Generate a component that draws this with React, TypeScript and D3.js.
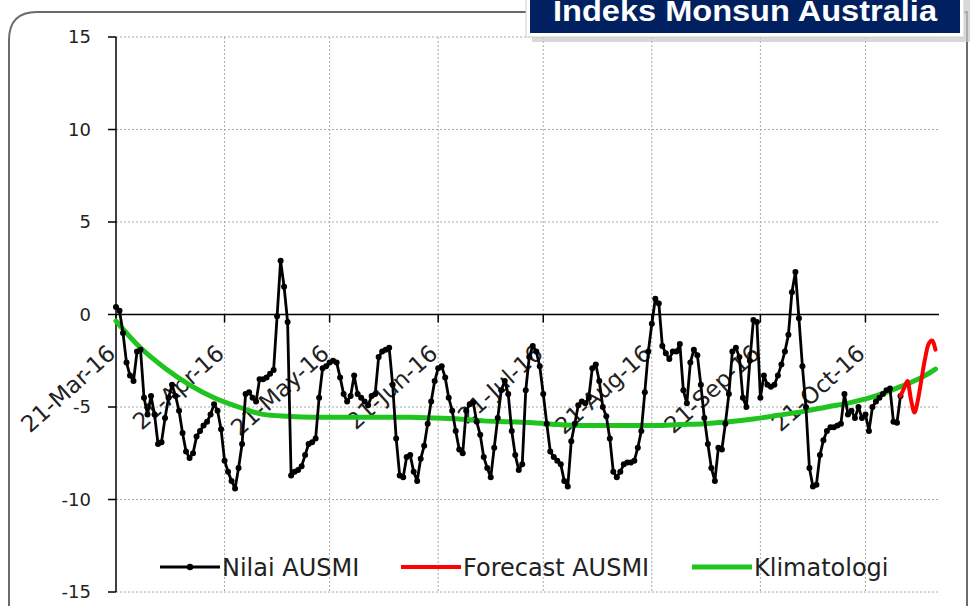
import React from 'react';
import * as d3 from 'd3';

const startDate = new Date(2016, 2, 21);
const endDate = new Date(2016, 10, 11);

// Nilai AUSMI, one value per day starting 21-Mar-16
const ausmi = [
  0.4, 0.2, -1.0, -2.6, -3.3, -3.6, -2.0, -1.9, -4.5, -5.4,
  -4.4, -5.4, -7.0, -6.9, -5.6, -4.5, -3.8, -4.4, -5.2, -6.4,
  -7.4, -7.75, -7.5, -6.6, -6.3, -6.0, -5.8, -5.4, -4.85, -5.2,
  -6.2, -7.9, -8.5, -9.0, -9.4, -8.3, -7.0, -4.3, -4.2, -4.5,
  -4.7, -3.5, -3.5, -3.4, -3.2, -3.0, -0.1, 2.9, 1.5, -0.4,
  -8.7, -8.5, -8.4, -8.2, -7.6, -7.0, -6.9, -6.7, -4.5, -2.9,
  -2.8, -2.6, -2.5, -2.6, -3.4, -4.3, -4.7, -4.4, -3.3, -4.3,
  -4.5, -4.7, -4.9, -4.4, -4.3, -2.3, -2.0, -1.9, -1.8, -3.8,
  -6.7, -8.7, -8.8, -7.7, -7.6, -8.5, -9.0, -7.8, -7.1, -5.9,
  -4.7, -3.6, -2.9, -2.8, -3.4, -4.5, -5.2, -6.3, -7.3, -7.5,
  -5.2, -4.85, -4.75, -5.8, -6.5, -7.7, -8.3, -8.8, -7.2, -5.6,
  -4.1, -3.6, -4.3, -6.3, -7.6, -8.4, -8.1, -4.1, -2.3, -1.7,
  -2.0, -2.8, -4.3, -5.9, -7.4, -7.7, -7.9, -8.1, -9.0, -9.3,
  -6.85, -5.9, -4.9, -4.7, -4.8, -4.5, -2.9, -2.7, -3.6, -5.0,
  -5.5, -6.7, -8.5, -8.8, -8.5, -8.1, -8.0, -8.0, -7.9, -7.2,
  -6.3, -4.2, -2.0, -0.5, 0.85, 0.6, -1.7, -2.1, -2.4, -2.0,
  -2.0, -1.6, -4.1, -4.8, -2.6, -1.9, -2.2, -3.8, -5.6, -7.0,
  -8.3, -9.0, -7.2, -7.3, -5.9, -4.3, -2.0, -1.8, -2.3, -4.5,
  -5.0, -2.5, -0.3, -0.4, -4.5, -3.3, -3.8, -3.9, -3.8, -3.3,
  -2.7, -2.0, -1.1, 1.2, 2.3, -0.2, -2.8, -5.0, -8.3, -9.3,
  -9.2, -7.6, -6.8, -6.3, -6.1, -6.1, -6.0, -5.9, -4.3, -5.4,
  -5.2, -5.6, -5.0, -5.6, -5.4, -6.3, -5.0, -4.7, -4.5, -4.3,
  -4.1, -4.0, -5.8, -5.85, -4.4,
];

// Forecast AUSMI, daily, picks up from the last observed day
const forecastStart = 224;
const forecast = [-4.4, -4.0, -3.6, -4.6, -5.3, -4.6, -3.5, -2.4, -1.6, -1.4, -1.9];

// Klimatologi, read off roughly every week
const klimDays = [0, 7, 14, 21, 28, 35, 42, 49, 56, 63, 70, 77, 84, 91, 98, 105, 112,
  119, 126, 133, 140, 147, 154, 161, 168, 175, 182, 189, 196, 203, 210, 217, 224, 231, 234];
const klimatologi = [-0.35, -1.8, -2.9, -3.8, -4.5, -5.0, -5.4, -5.5, -5.55, -5.55, -5.55,
  -5.55, -5.55, -5.6, -5.65, -5.75, -5.8, -5.85, -5.95, -6.0, -6.0, -6.0, -6.0, -5.95,
  -5.9, -5.8, -5.65, -5.45, -5.25, -5.0, -4.75, -4.4, -3.9, -3.3, -2.95];

const yTicks = [15, 10, 5, 0, -5, -10, -15];
const monthTicks = [2, 3, 4, 5, 6, 7, 8, 9].map(m => new Date(2016, m, 21));

const W = 971;
const H = 606;
const left = 116;
const right = 939;
const top = 37;
const bottom = 592;

const App = () => {
  const x = d3.scaleTime().domain([startDate, endDate]).range([left, right]);
  const y = d3.scaleLinear().domain([-15, 15]).range([bottom, top]);
  const day = (i: number) => d3.timeDay.offset(startDate, i);
  const fmt = d3.timeFormat('%d-%b-%y');

  const obs = ausmi.map((v, i) => ({ d: day(i), v }));
  const fc = forecast.map((v, i) => ({ d: day(forecastStart + i), v }));
  const kl = klimatologi.map((v, i) => ({ d: day(klimDays[i]), v }));

  const line = d3.line<{ d: Date; v: number }>().x(p => x(p.d)).y(p => y(p.v));
  const smooth = d3.line<{ d: Date; v: number }>().x(p => x(p.d)).y(p => y(p.v)).curve(d3.curveMonotoneX);
  const y0 = y(0);

  return (
    <svg width={W} height={H} style={{ position: 'absolute', left: 0, top: 0 }}
      fontFamily="'DejaVu Sans', sans-serif">
      <rect width={W} height={H} fill="#fff" />
      {/* chart frame */}
      <path d={`M9,${H + 20} L9,40 Q9,12 37,12 L967,12 L967,${H + 20}`} fill="none" stroke="#6b6b6b" strokeWidth={2} />

      {/* grid */}
      {yTicks.filter(t => t !== 0).map(t => (
        <line key={'h' + t} x1={left} x2={right} y1={y(t)} y2={y(t)} stroke="#aaa" strokeDasharray="2,2" />
      ))}
      {monthTicks.slice(1).map(t => (
        <line key={'v' + t.getTime()} x1={x(t)} x2={x(t)} y1={top} y2={bottom} stroke="#aaa" strokeDasharray="2,2" />
      ))}

      {/* y axis */}
      <line x1={left} x2={left} y1={top} y2={bottom} stroke="#000" strokeWidth={1.5} />
      {yTicks.map(t => (
        <g key={'yt' + t}>
          <line x1={left - 8} x2={left} y1={y(t)} y2={y(t)} stroke="#000" strokeWidth={1.5} />
          <text x={91} y={y(t)} dy="0.36em" textAnchor="end" fontSize={18} fill="#222">{t}</text>
        </g>
      ))}

      {/* x axis at zero */}
      <line x1={left} x2={right} y1={y0} y2={y0} stroke="#000" strokeWidth={1.5} />
      {monthTicks.map(t => (
        <g key={'xt' + t.getTime()}>
          <line x1={x(t)} x2={x(t)} y1={y0} y2={y0 + 8} stroke="#000" strokeWidth={1.5} />
          <text transform={`translate(${x(t) + 1},${y0 + 41}) rotate(-42)`} textAnchor="end"
            fontSize={23} fill="#222">{fmt(t)}</text>
        </g>
      ))}

      {/* series */}
      <path d={smooth(kl) ?? ''} fill="none" stroke="#1fc41f" strokeWidth={5} strokeLinecap="round" />
      <path d={line(obs) ?? ''} fill="none" stroke="#000" strokeWidth={2.8} strokeLinejoin="round" />
      {obs.map((p, i) => (
        <circle key={'o' + i} cx={x(p.d)} cy={y(p.v)} r={3} fill="#000" />
      ))}
      <path d={smooth(fc) ?? ''} fill="none" stroke="#ff0000" strokeWidth={4} strokeLinecap="round" />

      {/* legend */}
      <g fontSize={24} fill="#222">
        <line x1={160} x2={220} y1={567} y2={567} stroke="#000" strokeWidth={2.8} />
        <circle cx={190} cy={567} r={3.2} fill="#000" />
        <text x={222} y={567} dy="0.36em">Nilai AUSMI</text>
        <line x1={401} x2={461} y1={567} y2={567} stroke="#ff0000" strokeWidth={4} />
        <text x={463} y={567} dy="0.36em">Forecast AUSMI</text>
        <line x1={692} x2={752} y1={567} y2={567} stroke="#1fc41f" strokeWidth={5} />
        <text x={754} y={567} dy="0.36em">Klimatologi</text>
      </g>

      {/* title box */}
      <rect x={532} y={-10} width={438} height={52} fill="#c8c8c8" opacity={0.7} />
      <rect x={526} y={-10} width={438} height={47} fill="#fff" stroke="#d0d0d0" />
      <rect x={530} y={-10} width={430} height={43} fill="#002060" />
      <text x={745} y={21} textAnchor="middle" fontFamily="'Liberation Sans', sans-serif"
        fontWeight="bold" fontSize={30} fill="#fff" textLength={384} lengthAdjust="spacingAndGlyphs">
        Indeks Monsun Australia
      </text>
    </svg>
  );
};

export default App;
